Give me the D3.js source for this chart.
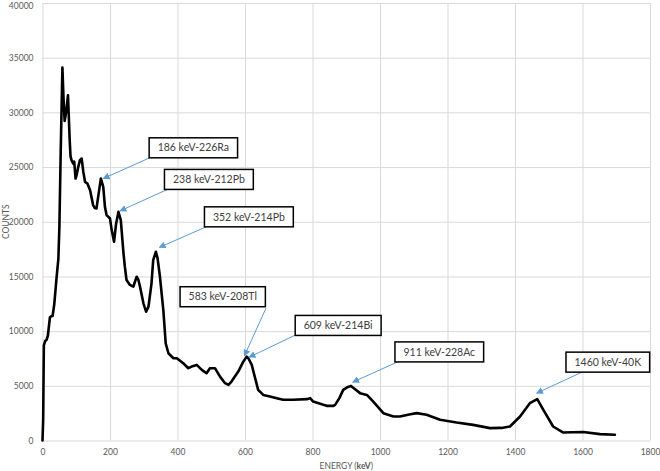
<!DOCTYPE html>
<html>
<head>
<meta charset="utf-8">
<script src="https://cdn.jsdelivr.net/npm/d3@7"></script>
<style>
  html, body { margin: 0; padding: 0; background: #fff; }
  svg { display: block; }
</style>
</head>
<body>
<svg id="chart" width="660" height="471"></svg>
<script>
// ---- data ----
const energy = [0, 2, 4, 8, 12, 16, 22, 28, 30, 35, 42, 47, 50, 54, 59, 62, 65.6, 70, 75.5, 80.6, 83, 86, 91, 94, 98, 101, 106, 111, 116, 121, 126, 133, 141, 150, 155, 160, 166, 173, 180, 185, 190, 200, 205, 212, 218, 225, 232, 240, 244, 249, 259, 269, 279, 284, 289, 299, 307, 314, 323, 328, 336, 341, 348, 358, 365, 373, 388, 398, 417, 432, 442, 457, 472, 486, 496, 511, 526, 541, 551, 560, 580, 595, 605, 610, 620, 630, 639, 654, 674, 694, 713, 743, 783, 793, 802, 832, 842, 862, 867, 880, 891, 905, 914, 930, 941, 961, 980, 1010, 1040, 1059, 1090, 1109, 1138, 1178, 1227, 1276, 1326, 1360, 1385, 1415, 1444, 1466, 1484, 1513, 1543, 1570, 1602, 1652, 1696];
const counts = [0, 1900, 8700, 9100, 9200, 9600, 11270, 11400, 11390, 12500, 15000, 16600, 19500, 26500, 34090, 31500, 29210, 30000, 31560, 27450, 26000, 25630, 25320, 25500, 23950, 24260, 25020, 25630, 25780, 24560, 23650, 23500, 22890, 21520, 21250, 21220, 22500, 23950, 23190, 21360, 20600, 20300, 19240, 18170, 19800, 20910, 20150, 17110, 15890, 14670, 14220, 14060, 14970, 14700, 14060, 12540, 11780, 12230, 14370, 16500, 17260, 16650, 14970, 11930, 8890, 7980, 7520, 7520, 7060, 6610, 6760, 6910, 6460, 6150, 6610, 6610, 5840, 5240, 5080, 5390, 6300, 7210, 7670, 7520, 6910, 5700, 4630, 4170, 4020, 3870, 3720, 3720, 3780, 3870, 3560, 3260, 3170, 3170, 3260, 3900, 4630, 4900, 4990, 4600, 4330, 4170, 3560, 2500, 2200, 2190, 2400, 2500, 2350, 1890, 1640, 1430, 1130, 1150, 1280, 2190, 3410, 3780, 2800, 1280, 730, 750, 770, 580, 520];

const xTicks = [0, 200, 400, 600, 800, 1000, 1200, 1400, 1600, 1800];
const yTicks = [0, 5000, 10000, 15000, 20000, 25000, 30000, 35000, 40000];

// annotation labels, box centres, arrow start and arrow tip (in keV / counts)
const annLabels = ["186 keV-226Ra", "238 keV-212Pb", "352 keV-214Pb", "583 keV-208Tl", "609 keV-214Bi", "911 keV-228Ac", "1460 keV-40K"];
const annBoxE = [447, 493, 611.5, 534, 876, 1175.7, 1675];
const annBoxC = [26760, 23870, 20450, 13145, 10520, 8100, 7165];
const annFromE = [321.5, 371.9, 484.4, 662, 750, 1054, 1602];
const annFromC = [25900, 22980, 19530, 12085, 9650, 7210, 6300];
const annTipE = [180, 229.6, 346, 598, 612, 919, 1464];
const annTipC = [23950, 20990, 17650, 7730, 7610, 5330, 4330];

// ---- drawing ----
const svg = d3.select("#chart");
const x = d3.scaleLinear().domain([0, 1800]).range([42.5, 650]);
const y = d3.scaleLinear().domain([0, 40000]).range([440.5, 3]);
const font = "Lato, 'Open Sans', sans-serif";

// gridlines
const gx = svg.append("g")
  .attr("transform", `translate(0,${y(0)})`)
  .call(d3.axisBottom(x).tickValues(xTicks).tickSize(-(y(0) - y(40000))).tickFormat(d => d).tickPadding(8));
const gy = svg.append("g")
  .attr("transform", `translate(${x(0)},0)`)
  .call(d3.axisLeft(y).tickValues(yTicks).tickSize(-(x(1800) - x(0))).tickFormat(d => d).tickPadding(9));
[gx, gy].forEach(g => {
  g.select(".domain").remove();
  g.selectAll(".tick line").attr("stroke", "#d9d9d9").attr("stroke-width", 1);
  g.selectAll(".tick text").attr("fill", "#595959").style("font-family", font).style("font-size", "8.5px");
});
// keep the top label inside the picture
gy.selectAll(".tick text").filter(d => d === 40000).attr("dy", "0.6em");

// axis titles
svg.append("text")
  .attr("transform", `translate(9,${(y(0) + y(40000)) / 2}) rotate(-90)`)
  .attr("text-anchor", "middle")
  .attr("fill", "#595959")
  .style("font-family", font).style("font-size", "8.5px")
  .text("COUNTS");
const xt = svg.append("text")
  .attr("x", (x(0) + x(1800)) / 2).attr("y", 469)
  .attr("text-anchor", "middle")
  .attr("fill", "#595959")
  .style("font-family", font).style("font-size", "8.5px");
xt.append("tspan").text("ENERGY (");
xt.append("tspan").attr("font-weight", "bold").text("keV");
xt.append("tspan").text(")");

// spectrum line
const pts = energy.map((e, i) => [e, counts[i]]);
svg.append("path")
  .datum(pts)
  .attr("fill", "none")
  .attr("stroke", "#000")
  .attr("stroke-width", 2.6)
  .attr("stroke-linejoin", "round")
  .attr("stroke-linecap", "round")
  .attr("d", d3.line().x(d => x(d[0])).y(d => y(d[1])));

// arrow marker
svg.append("defs").append("marker")
  .attr("id", "arr")
  .attr("viewBox", "0 0 10 10")
  .attr("refX", 9).attr("refY", 5)
  .attr("markerWidth", 7).attr("markerHeight", 7)
  .attr("markerUnits", "userSpaceOnUse")
  .attr("orient", "auto")
  .append("path").attr("d", "M0,0 L10,5 L0,10 z").attr("fill", "#5b9bd5");

// annotations
annLabels.forEach((lab, i) => {
  svg.append("line")
    .attr("x1", x(annFromE[i])).attr("y1", y(annFromC[i]))
    .attr("x2", x(annTipE[i])).attr("y2", y(annTipC[i]))
    .attr("stroke", "#5b9bd5").attr("stroke-width", 1)
    .attr("marker-end", "url(#arr)");
  const g = svg.append("g");
  const cx = x(annBoxE[i]), cy = y(annBoxC[i]);
  const rect = g.append("rect");
  const t = g.append("text")
    .attr("x", cx).attr("y", cy).attr("dy", "0.35em")
    .attr("text-anchor", "middle")
    .attr("fill", "#404040")
    .style("font-family", font).style("font-size", "10.5px")
    .text(lab);
  const w = t.node().getComputedTextLength() + 17;
  const h = 20;
  rect.attr("x", cx - w / 2).attr("y", cy - h / 2).attr("width", w).attr("height", h)
    .attr("fill", "#fff").attr("stroke", "#000").attr("stroke-width", 1.5);
});
</script>
</body>
</html>
